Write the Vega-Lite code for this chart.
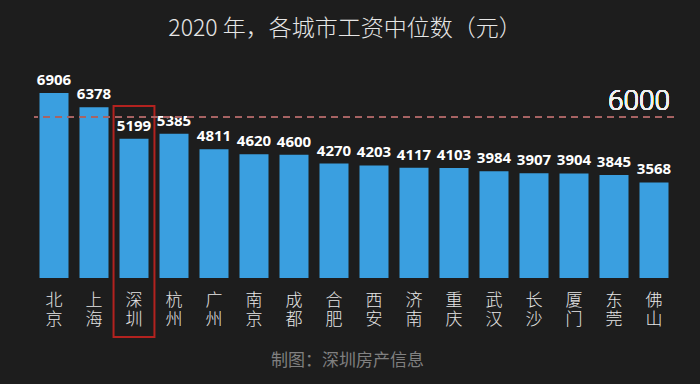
{
  "$schema": "https://vega.github.io/schema/vega-lite/v6.json",
  "autosize": "none",
  "width": 640,
  "height": 278,
  "padding": {"left": 34, "right": 26, "top": 0, "bottom": 106},
  "background": "#1d1d1d",
  "config": {"view": {"stroke": null}, "font": "Noto Sans CJK SC"},
  "title": {
    "text": "2020 年，各城市工资中位数（元）",
    "frame": "group",
    "anchor": "middle",
    "offset": -41,
    "dx": -9,
    "fontSize": 23,
    "fontWeight": 200,
    "color": "#e6e6e6",
    "font": "Noto Sans CJK SC"
  },
  "data": {
    "values": [
      {"city": "北京", "wage": 6906},
      {"city": "上海", "wage": 6378},
      {"city": "深圳", "wage": 5199},
      {"city": "杭州", "wage": 5385},
      {"city": "广州", "wage": 4811},
      {"city": "南京", "wage": 4620},
      {"city": "成都", "wage": 4600},
      {"city": "合肥", "wage": 4270},
      {"city": "西安", "wage": 4203},
      {"city": "济南", "wage": 4117},
      {"city": "重庆", "wage": 4103},
      {"city": "武汉", "wage": 3984},
      {"city": "长沙", "wage": 3907},
      {"city": "厦门", "wage": 3904},
      {"city": "东莞", "wage": 3845},
      {"city": "佛山", "wage": 3568}
    ]
  },
  "encoding": {
    "x": {
      "field": "city",
      "type": "nominal",
      "sort": null,
      "scale": {"paddingInner": 0.275, "paddingOuter": 0.1375},
      "axis": {
        "title": "制图：深圳房产信息",
        "titleColor": "#808080",
        "titleFontSize": 17,
        "titleFontWeight": 400,
        "titleFont": "Noto Sans CJK SC",
        "titleX": 313,
        "titleY": 82,
        "titleBaseline": "middle",
        "titleAlign": "center",
        "labelExpr": "split(datum.label, '')",
        "labelAngle": 0,
        "labelFontSize": 17,
        "labelLineHeight": 19,
        "labelFontWeight": 200,
        "labelColor": "#e6e6e6",
        "labelBaseline": "top",
        "labelPadding": 14,
        "labelFont": "Noto Sans CJK SC",
        "domain": false,
        "ticks": false,
        "grid": false
      }
    },
    "y": {
      "field": "wage",
      "type": "quantitative",
      "scale": {"domain": [0, 10378], "nice": false, "zero": true},
      "axis": null
    }
  },
  "layer": [
    {"mark": {"type": "bar", "color": "#3a9fe0"}},
    {
      "mark": {
        "type": "text",
        "baseline": "alphabetic",
        "dy": -8,
        "color": "#ffffff",
        "fontSize": 15,
        "fontWeight": "bold",
        "font": "Open Sans"
      },
      "encoding": {"text": {"field": "wage", "type": "quantitative", "format": "d"}}
    },
    {
      "mark": {
        "type": "bar",
        "filled": false,
        "stroke": "#b3221f",
        "strokeWidth": 2,
        "width": {"band": 1.41}
      },
      "transform": [{"filter": "datum.city === '深圳'"}],
      "encoding": {
        "y": {"datum": 6421},
        "y2": {"datum": -2202}
      }
    },
    {
      "mark": {"type": "rule", "color": "#a86464", "strokeWidth": 1.2, "strokeDash": [7, 5]},
      "encoding": {"x": null, "y": {"datum": 6000}}
    },
    {
      "mark": {
        "type": "text",
        "align": "right",
        "baseline": "alphabetic",
        "dx": 16,
        "dy": -7,
        "fontSize": 28,
        "fontWeight": 300,
        "font": "Roboto",
        "color": "#f0f0f0"
      },
      "encoding": {
        "x": {"datum": "佛山"},
        "y": {"datum": 6000},
        "text": {"value": "6000"}
      }
    }
  ]
}
